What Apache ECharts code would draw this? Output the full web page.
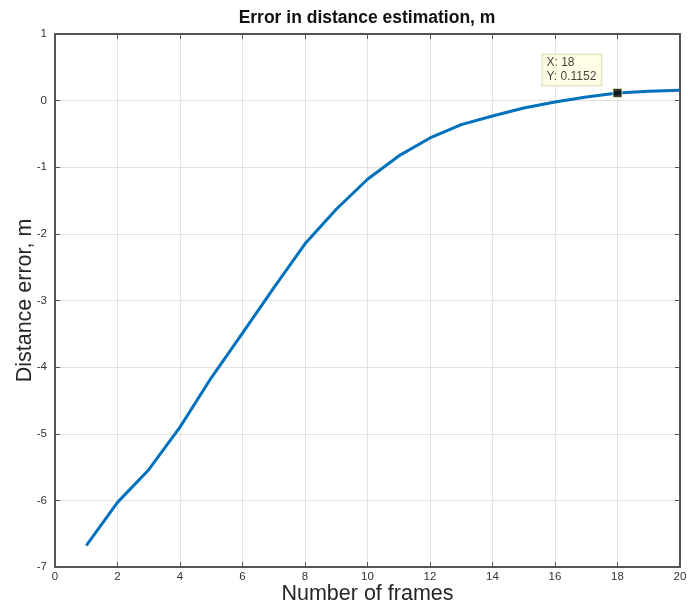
<!DOCTYPE html>
<html>
<head>
<meta charset="utf-8">
<script src="https://cdn.jsdelivr.net/npm/echarts@6/dist/echarts.min.js"></script>
<style>
  html, body { margin: 0; padding: 0; background: #fff; }
  #chart { width: 688px; height: 608px; }
</style>
</head>
<body>
<div id="chart"></div>
<script>
const frames = [1, 2, 3, 4, 5, 6, 7, 8, 9, 10, 11, 12, 13, 14, 15, 16, 17, 18, 19, 20];
const distanceError = [-6.68, -6.03, -5.54, -4.9, -4.16, -3.49, -2.81, -2.15, -1.63, -1.18,
  -0.83, -0.56, -0.36, -0.23, -0.11, -0.02, 0.055, 0.1152, 0.14, 0.155];
const tipPoint = [18, 0.1152];

const axisColor = '#555';
const labelColor = '#333';
const gridColor = '#e2e2e2';
const font = 'Liberation Sans';

const chart = echarts.init(document.getElementById('chart'), null, { renderer: 'canvas' });

const baseAxis = {
  type: 'value',
  axisLine: { show: true, onZero: false, lineStyle: { color: axisColor, width: 2 } },
  axisTick: { show: true, inside: true, length: 5, lineStyle: { color: axisColor } },
};

chart.setOption({
  animation: false,
  title: {
    text: 'Error in distance estimation, m',
    left: 362,
    textAlign: 'center',
    top: 4,
    textStyle: { fontFamily: font, fontSize: 17.5, fontWeight: 'bold', color: '#111' },
  },
  grid: { left: 55, right: 8, top: 34, bottom: 41, outerBoundsMode: 'none' },
  xAxis: [
    {
      ...baseAxis,
      min: 0, max: 20, interval: 2,
      name: 'Number of frames',
      nameLocation: 'middle',
      nameGap: 16,
      nameMoveOverlap: false,
      nameTextStyle: { fontFamily: font, fontSize: 21.5, color: '#262626' },
      axisLabel: { fontFamily: font, fontSize: 11.5, color: labelColor, margin: 4 },
      splitLine: { show: true, lineStyle: { color: gridColor } },
    },
    {
      ...baseAxis,
      position: 'top',
      min: 0, max: 20, interval: 2,
      axisLabel: { show: false },
      splitLine: { show: false },
    },
  ],
  yAxis: [
    {
      ...baseAxis,
      min: -7, max: 1, interval: 1,
      name: 'Distance error, m',
      nameLocation: 'middle',
      nameGap: 19,
      nameMoveOverlap: false,
      nameTextStyle: { fontFamily: font, fontSize: 21.5, color: '#262626' },
      axisLabel: { fontFamily: font, fontSize: 11.5, color: labelColor, margin: 8 },
      splitLine: { show: true, lineStyle: { color: gridColor } },
    },
    {
      ...baseAxis,
      position: 'right',
      min: -7, max: 1, interval: 1,
      axisLabel: { show: false },
      splitLine: { show: false },
    },
  ],
  series: [
    {
      type: 'line',
      data: frames.map((f, i) => [f, distanceError[i]]),
      showSymbol: false,
      lineStyle: { color: '#0072BD', width: 3 },
      z: 2,
    },
    {
      type: 'scatter',
      data: [tipPoint],
      symbol: 'rect',
      symbolSize: 9,
      itemStyle: { color: '#000', borderColor: '#f5f0c0', borderWidth: 1 },
      label: {
        show: true,
        position: 'left',
        offset: [-65, -23],
        align: 'left',
        formatter: (p) => 'X: ' + p.value[0] + '\nY: ' + p.value[1],
        fontFamily: font,
        fontSize: 12,
        lineHeight: 14,
        color: '#111',
        backgroundColor: '#ffffe1',
        borderColor: '#d8d4b0',
        borderWidth: 1,
        padding: [2, 5, 1, 4],
      },
      z: 3,
    },
  ],
});
</script>
</body>
</html>
